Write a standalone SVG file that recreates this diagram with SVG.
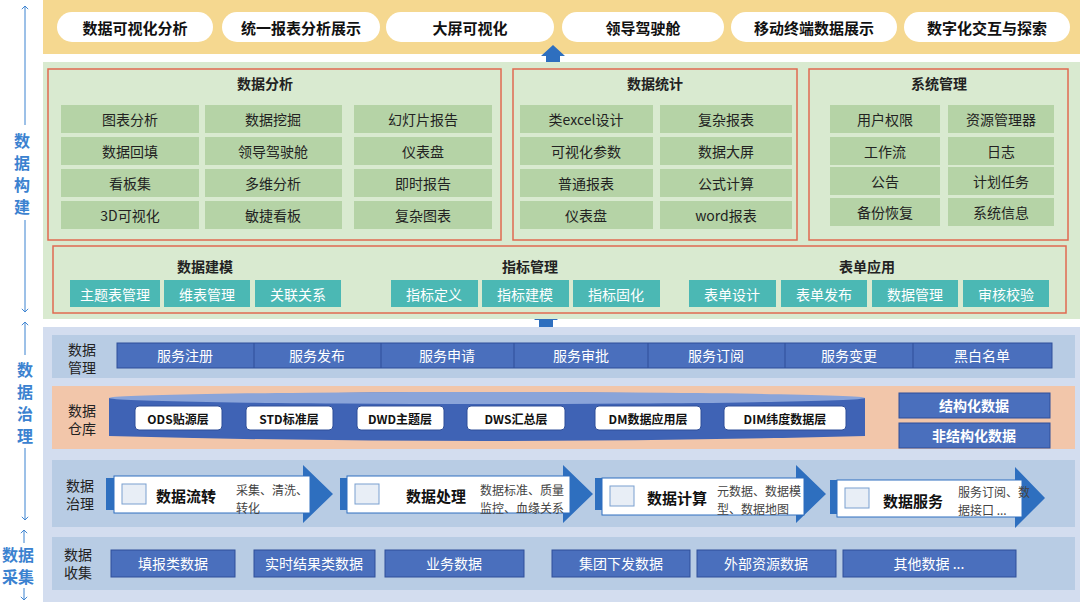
<svg xmlns="http://www.w3.org/2000/svg" width="1080" height="602" viewBox="0 0 1080 602">
<defs>
<style>
text{font-family:"Noto Sans CJK SC","Liberation Sans",sans-serif;text-anchor:middle;dominant-baseline:central}
.pill{fill:#fff}
.pt{font-size:15px;font-weight:bold;fill:#111}
.box{fill:none;stroke:#e06a50;stroke-width:1.5}
.ttl{font-size:14px;font-weight:bold;fill:#222}
.g{fill:#b5d3a6}
.gt{font-size:14px;fill:#222}
.tl{fill:#4bb8b4}
.tt{font-size:14px;fill:#fff}
.bl{fill:#4a6fbd;stroke:#2f4f99;stroke-width:1}
.bt{font-size:14px;fill:#fff}
.side{font-size:16px;font-weight:bold;fill:#3b82d0}
.lab{font-size:14px;fill:#222}
.cy{fill:#fff;stroke:#2f4f99;stroke-width:1}
.ct{font-size:12px;font-weight:bold;fill:#111}
.ar{fill:#2e6fbf}
.st{font-size:15px;font-weight:bold;fill:#111}
.sd{font-size:12px;fill:#444;text-anchor:start}
</style>
<marker id="ah" viewBox="0 0 10 10" refX="5" refY="5" markerWidth="8" markerHeight="8" orient="auto-start-reverse"><path d="M1,1 L5,5 L1,9" fill="none" stroke="#3b82d0" stroke-width="1.2"/></marker>
</defs>
<rect width="1080" height="602" fill="#fff"/>
<g id="side">
<line x1="25" y1="6" x2="25" y2="125" stroke="#3b82d0" marker-start="url(#ah)"/>
<line x1="25" y1="220" x2="25" y2="312" stroke="#3b82d0" marker-end="url(#ah)"/>
<text class="side" x="22" y="140">数</text><text class="side" x="22" y="162">据</text><text class="side" x="22" y="184">构</text><text class="side" x="22" y="206">建</text>
<line x1="25" y1="322" x2="25" y2="355" stroke="#3b82d0" marker-start="url(#ah)"/>
<line x1="25" y1="448" x2="25" y2="520" stroke="#3b82d0" marker-end="url(#ah)"/>
<text class="side" x="25" y="369">数</text><text class="side" x="25" y="391">据</text><text class="side" x="25" y="413">治</text><text class="side" x="25" y="435">理</text>
<line x1="24" y1="530" x2="24" y2="543" stroke="#3b82d0" marker-start="url(#ah)"/>
<text class="side" x="18" y="554">数据</text><text class="side" x="18" y="576">采集</text>
<line x1="24" y1="588" x2="24" y2="600" stroke="#3b82d0" marker-end="url(#ah)"/>
</g>
<g id="top">
<rect x="43" y="0" width="1037" height="54" fill="#f5d890"/>
<rect class="pill" x="57" y="12" width="156" height="30" rx="15"/><text class="pt" x="135" y="27">数据可视化分析</text>
<rect class="pill" x="222" y="12" width="158" height="30" rx="15"/><text class="pt" x="301" y="27">统一报表分析展示</text>
<rect class="pill" x="386" y="12" width="168" height="30" rx="15"/><text class="pt" x="470" y="27">大屏可视化</text>
<rect class="pill" x="562" y="12" width="162" height="30" rx="15"/><text class="pt" x="643" y="27">领导驾驶舱</text>
<rect class="pill" x="731" y="12" width="166" height="30" rx="15"/><text class="pt" x="814" y="27">移动终端数据展示</text>
<rect class="pill" x="904" y="12" width="166" height="30" rx="15"/><text class="pt" x="987" y="27">数字化交互与探索</text>
</g>
<g id="connectors">
<path class="ar" d="M546,68 V56 H541 L553,45 L565,56 H560 V68 Z"/>
<path class="ar" d="M539,330 V320 H534 L546,309 L558,320 H553 V330 Z"/>
</g>
<g id="build">
<rect x="43" y="62" width="1037" height="257" fill="#d9ead0"/>
<rect class="box" x="48" y="69" width="453" height="171"/>
<text class="ttl" x="265" y="83">数据分析</text>
<g>
<rect class="g" x="61" y="105" width="138" height="28"/><text class="gt" x="130" y="119">图表分析</text>
<rect class="g" x="61" y="137" width="138" height="28"/><text class="gt" x="130" y="151">数据回填</text>
<rect class="g" x="61" y="169" width="138" height="28"/><text class="gt" x="130" y="183">看板集</text>
<rect class="g" x="61" y="201" width="138" height="28"/><text class="gt" x="130" y="215">3D可视化</text>
<rect class="g" x="205" y="105" width="137" height="28"/><text class="gt" x="273" y="119">数据挖掘</text>
<rect class="g" x="205" y="137" width="137" height="28"/><text class="gt" x="273" y="151">领导驾驶舱</text>
<rect class="g" x="205" y="169" width="137" height="28"/><text class="gt" x="273" y="183">多维分析</text>
<rect class="g" x="205" y="201" width="137" height="28"/><text class="gt" x="273" y="215">敏捷看板</text>
<rect class="g" x="354" y="105" width="138" height="28"/><text class="gt" x="423" y="119">幻灯片报告</text>
<rect class="g" x="354" y="137" width="138" height="28"/><text class="gt" x="423" y="151">仪表盘</text>
<rect class="g" x="354" y="169" width="138" height="28"/><text class="gt" x="423" y="183">即时报告</text>
<rect class="g" x="354" y="201" width="138" height="28"/><text class="gt" x="423" y="215">复杂图表</text>
</g>
<rect class="box" x="513" y="69" width="284" height="171"/>
<text class="ttl" x="655" y="83">数据统计</text>
<rect class="g" x="520" y="105" width="133" height="28"/><text class="gt" x="586" y="119">类excel设计</text>
<rect class="g" x="520" y="137" width="133" height="28"/><text class="gt" x="586" y="151">可视化参数</text>
<rect class="g" x="520" y="169" width="133" height="28"/><text class="gt" x="586" y="183">普通报表</text>
<rect class="g" x="520" y="201" width="133" height="28"/><text class="gt" x="586" y="215">仪表盘</text>
<rect class="g" x="660" y="105" width="132" height="28"/><text class="gt" x="726" y="119">复杂报表</text>
<rect class="g" x="660" y="137" width="132" height="28"/><text class="gt" x="726" y="151">数据大屏</text>
<rect class="g" x="660" y="169" width="132" height="28"/><text class="gt" x="726" y="183">公式计算</text>
<rect class="g" x="660" y="201" width="132" height="28"/><text class="gt" x="726" y="215">word报表</text>
<rect class="box" x="809" y="69" width="259" height="171"/>
<text class="ttl" x="939" y="83">系统管理</text>
<rect class="g" x="830" y="105" width="110" height="28"/><text class="gt" x="885" y="119">用户权限</text>
<rect class="g" x="830" y="137" width="110" height="28"/><text class="gt" x="885" y="151">工作流</text>
<rect class="g" x="830" y="167" width="110" height="28"/><text class="gt" x="885" y="181">公告</text>
<rect class="g" x="830" y="198" width="110" height="28"/><text class="gt" x="885" y="212">备份恢复</text>
<rect class="g" x="948" y="105" width="106" height="28"/><text class="gt" x="1001" y="119">资源管理器</text>
<rect class="g" x="948" y="137" width="106" height="28"/><text class="gt" x="1001" y="151">日志</text>
<rect class="g" x="948" y="167" width="106" height="28"/><text class="gt" x="1001" y="181">计划任务</text>
<rect class="g" x="948" y="198" width="106" height="28"/><text class="gt" x="1001" y="212">系统信息</text>
<rect class="box" x="53" y="246" width="1013" height="67"/>
<text class="ttl" x="205" y="266">数据建模</text>
<text class="ttl" x="530" y="266">指标管理</text>
<text class="ttl" x="867" y="266">表单应用</text>
<rect class="tl" x="70" y="280" width="90" height="27"/><text class="tt" x="115" y="294">主题表管理</text>
<rect class="tl" x="164" y="280" width="86" height="27"/><text class="tt" x="207" y="294">维表管理</text>
<rect class="tl" x="255" y="280" width="86" height="27"/><text class="tt" x="298" y="294">关联关系</text>
<rect class="tl" x="391" y="280" width="87" height="27"/><text class="tt" x="434" y="294">指标定义</text>
<rect class="tl" x="482" y="280" width="87" height="27"/><text class="tt" x="525" y="294">指标建模</text>
<rect class="tl" x="573" y="280" width="87" height="27"/><text class="tt" x="616" y="294">指标固化</text>
<rect class="tl" x="689" y="280" width="87" height="27"/><text class="tt" x="732" y="294">表单设计</text>
<rect class="tl" x="781" y="280" width="86" height="27"/><text class="tt" x="824" y="294">表单发布</text>
<rect class="tl" x="872" y="280" width="86" height="27"/><text class="tt" x="915" y="294">数据管理</text>
<rect class="tl" x="963" y="280" width="86" height="27"/><text class="tt" x="1006" y="294">审核校验</text>
</g>
<g id="govern">
<rect x="43" y="327" width="1037" height="275" fill="#d3ddef"/>
<rect x="52" y="335" width="1023" height="43" fill="#b8cce4"/>
<text class="lab" x="82" y="349">数据</text><text class="lab" x="82" y="367">管理</text>
<rect class="bl" x="117" y="343" width="935" height="25"/>
<g stroke="#2f4f99"><line x1="254" y1="343" x2="254" y2="368"/><line x1="381" y1="343" x2="381" y2="368"/><line x1="514" y1="343" x2="514" y2="368"/><line x1="648" y1="343" x2="648" y2="368"/><line x1="785" y1="343" x2="785" y2="368"/><line x1="913" y1="343" x2="913" y2="368"/></g>
<text class="bt" x="185" y="355">服务注册</text><text class="bt" x="317" y="355">服务发布</text><text class="bt" x="447" y="355">服务申请</text><text class="bt" x="581" y="355">服务审批</text><text class="bt" x="716" y="355">服务订阅</text><text class="bt" x="849" y="355">服务变更</text><text class="bt" x="982" y="355">黑白名单</text>
<rect x="52" y="386" width="1023" height="63" fill="#f2c6aa"/>
<text class="lab" x="82" y="410">数据</text><text class="lab" x="82" y="428">仓库</text>
<path d="M109,398 Q487,386 865,398 V436 Q487,446 109,436 Z" fill="#3f63b5"/>
<ellipse cx="487" cy="398" rx="378" ry="6" fill="#8aa4d9"/>
<g>
<rect class="cy" x="135" y="406" width="87" height="24" rx="4"/><text class="ct" x="178" y="418">ODS贴源层</text>
<rect class="cy" x="246" y="406" width="87" height="24" rx="4"/><text class="ct" x="289" y="418">STD标准层</text>
<rect class="cy" x="357" y="406" width="87" height="24" rx="4"/><text class="ct" x="400" y="418">DWD主题层</text>
<rect class="cy" x="467" y="406" width="98" height="24" rx="4"/><text class="ct" x="516" y="418">DWS汇总层</text>
<rect class="cy" x="595" y="406" width="106" height="24" rx="4"/><text class="ct" x="648" y="418">DM数据应用层</text>
<rect class="cy" x="724" y="406" width="122" height="24" rx="4"/><text class="ct" x="785" y="418">DIM纬度数据层</text>
</g>
<rect class="bl" x="899" y="393" width="151" height="25"/><text class="bt" x="974" y="405" font-weight="bold" font-size="13">结构化数据</text>
<rect class="bl" x="899" y="423" width="151" height="25"/><text class="bt" x="974" y="435" font-weight="bold" font-size="13">非结构化数据</text>
<rect x="52" y="460" width="1023" height="67" fill="#b8cce4"/>
<text class="lab" x="80" y="485">数据</text><text class="lab" x="80" y="503">治理</text>
<g>
<path class="ar" d="M106,478 H303 V465 L333,494 L303,523 V510 H106 Z"/>
<rect x="114" y="476" width="196" height="37" fill="#fff" stroke="#2e6fbf"/>
<text class="st" x="186" y="495">数据流转</text><text class="sd" x="236" y="489">采集、清洗、</text><text class="sd" x="236" y="507">转化</text>
<rect x="122" y="484" width="24" height="20" fill="#e8eef6" stroke="#7aa0d0"/>
</g>
<g>
<path class="ar" d="M340,478 H563 V465 L593,494 L563,523 V510 H340 Z"/>
<rect x="347" y="476" width="223" height="37" fill="#fff" stroke="#2e6fbf"/>
<text class="st" x="436" y="495">数据处理</text><text class="sd" x="480" y="489">数据标准、质量</text><text class="sd" x="480" y="507">监控、血缘关系</text>
<rect x="355" y="484" width="24" height="20" fill="#e8eef6" stroke="#7aa0d0"/>
</g>
<g>
<path class="ar" d="M595,478 H796 V465 L826,494 L796,523 V510 H595 Z"/>
<rect x="602" y="478" width="202" height="37" fill="#fff" stroke="#2e6fbf"/>
<text class="st" x="677" y="497">数据计算</text><text class="sd" x="717" y="490">元数据、数据模</text><text class="sd" x="717" y="508">型、数据地图</text>
<rect x="610" y="486" width="24" height="20" fill="#e8eef6" stroke="#7aa0d0"/>
</g>
<g>
<path class="ar" d="M830,480 H1015 V467 L1045,498 L1015,528 V514 H830 Z"/>
<rect x="837" y="480" width="185" height="37" fill="#fff" stroke="#2e6fbf"/>
<text class="st" x="913" y="500">数据服务</text><text class="sd" x="958" y="491">服务订阅、数</text><text class="sd" x="958" y="509">据接口 ...</text>
<rect x="845" y="488" width="24" height="20" fill="#e8eef6" stroke="#7aa0d0"/>
</g>
<rect x="52" y="537" width="1023" height="53" fill="#b8cce4"/>
<text class="lab" x="78" y="554">数据</text><text class="lab" x="78" y="572">收集</text>
<rect class="bl" x="111" y="550" width="124" height="27"/><text class="bt" x="173" y="563">填报类数据</text>
<rect class="bl" x="254" y="550" width="121" height="27"/><text class="bt" x="314" y="563">实时结果类数据</text>
<rect class="bl" x="385" y="550" width="139" height="27"/><text class="bt" x="454" y="563">业务数据</text>
<rect class="bl" x="552" y="550" width="138" height="27"/><text class="bt" x="621" y="563">集团下发数据</text>
<rect class="bl" x="697" y="550" width="139" height="27"/><text class="bt" x="766" y="563">外部资源数据</text>
<rect class="bl" x="843" y="550" width="173" height="27"/><text class="bt" x="929" y="563">其他数据 ...</text>
</g>
</svg>
